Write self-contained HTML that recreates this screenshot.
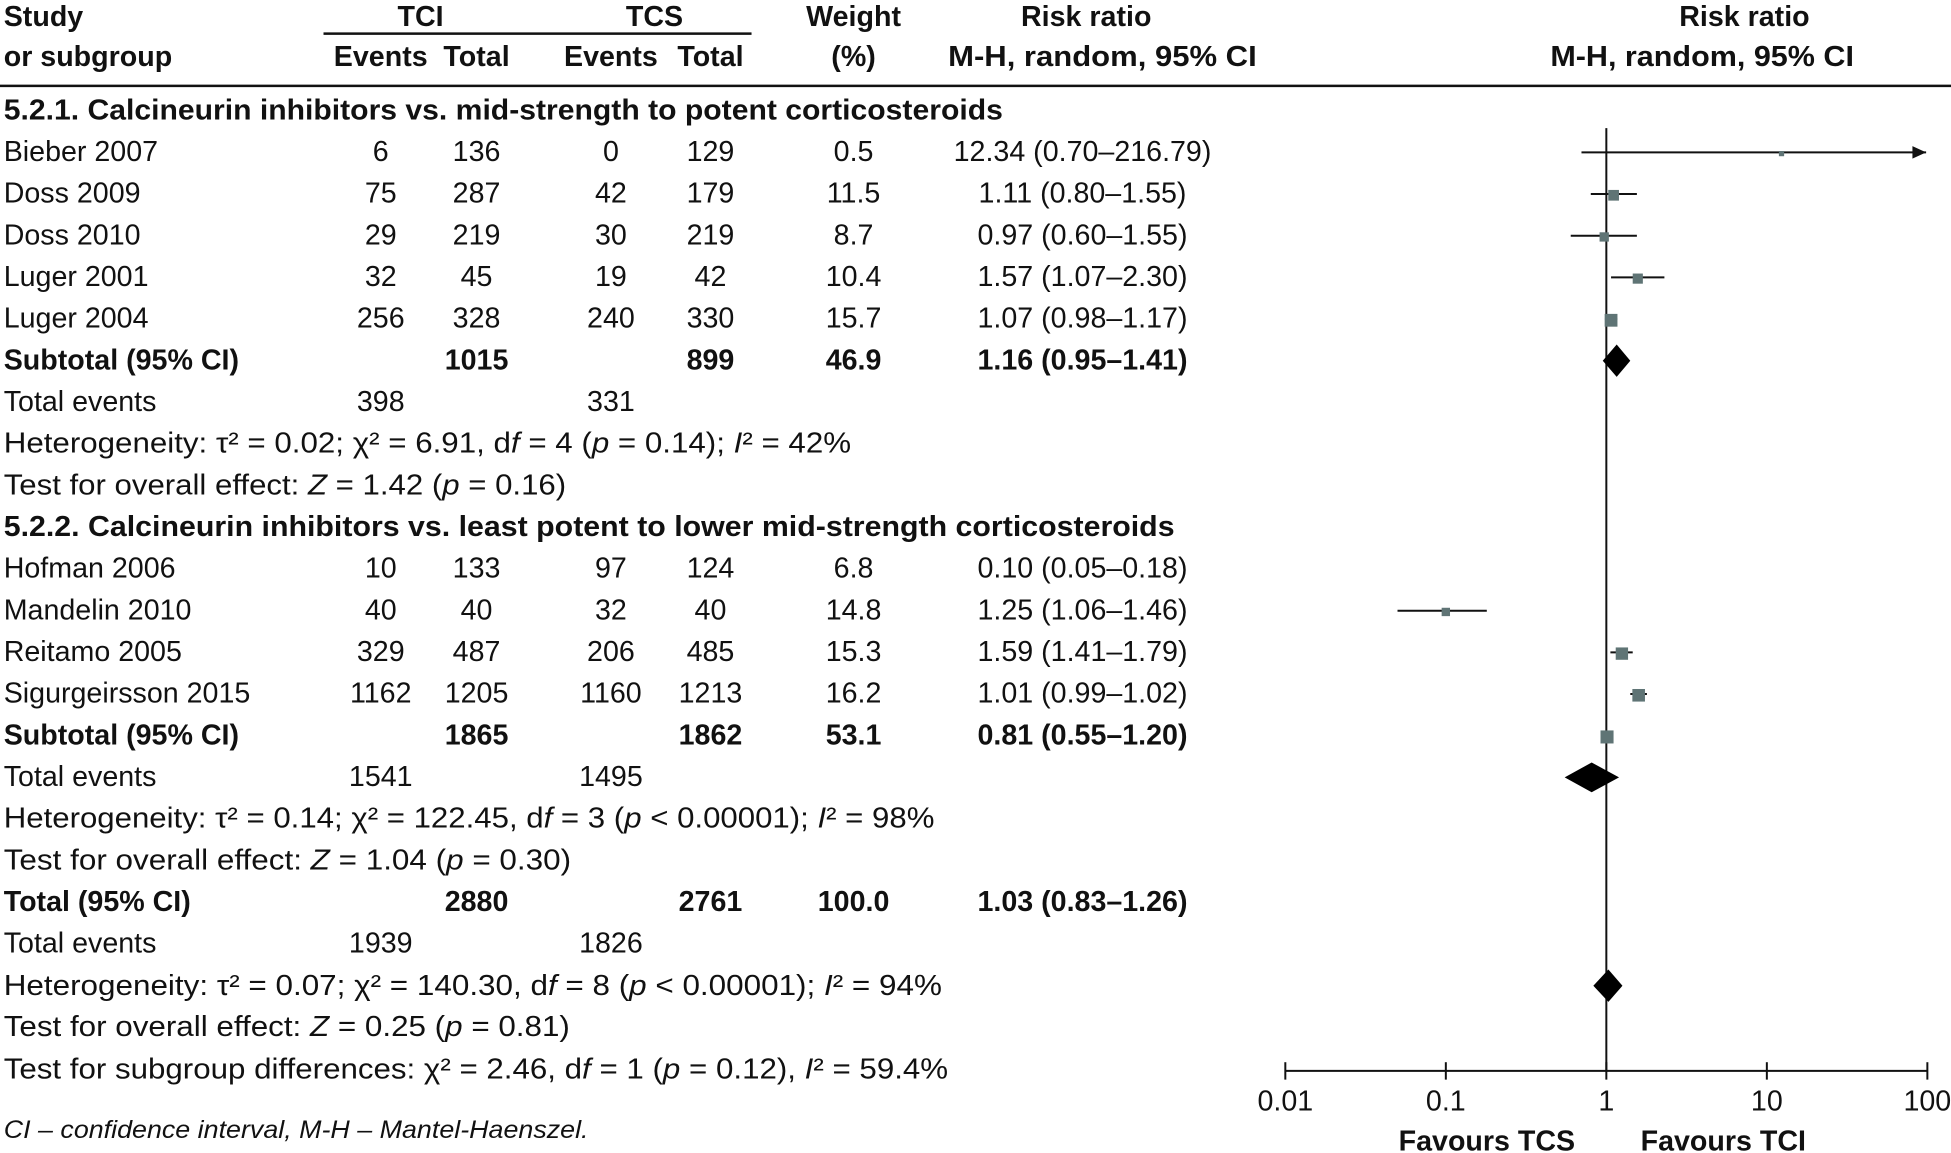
<!DOCTYPE html>
<html><head><meta charset="utf-8"><style>
html,body{margin:0;padding:0;background:#fff}
svg{display:block}
text{font-family:"Liberation Sans",sans-serif;font-size:23px;fill:#111}
.b{font-weight:bold}
</style></head><body>
<svg id="fp" width="1951" height="1153" viewBox="0 0 1568 927" preserveAspectRatio="none" xmlns="http://www.w3.org/2000/svg">
<g id="hdr">
<text x="3" y="21" class="b">Study</text>
<text x="3" y="53" class="b">or subgroup</text>
<text x="338" y="21" class="b" text-anchor="middle">TCI</text>
<text x="526" y="21" class="b" text-anchor="middle">TCS</text>
<line x1="260" y1="27" x2="604" y2="27" stroke="#111" stroke-width="2"/>
<text x="306" y="53" class="b" text-anchor="middle">Events</text>
<text x="383" y="53" class="b" text-anchor="middle">Total</text>
<text x="491" y="53" class="b" text-anchor="middle">Events</text>
<text x="571" y="53" class="b" text-anchor="middle">Total</text>
<text x="686" y="21" class="b" text-anchor="middle">Weight</text>
<text x="686" y="53" class="b" text-anchor="middle">(%)</text>
<text x="873" y="21" class="b" text-anchor="middle">Risk ratio</text>
<text x="886" y="53" class="b" text-anchor="middle" textLength="248" lengthAdjust="spacingAndGlyphs">M-H, random, 95% CI</text>
<text x="1402" y="21" class="b" text-anchor="middle">Risk ratio</text>
<text x="1368" y="53" class="b" text-anchor="middle" textLength="244" lengthAdjust="spacingAndGlyphs">M-H, random, 95% CI</text>
<line x1="0" y1="69" x2="1568" y2="69" stroke="#111" stroke-width="2"/>
</g>
<g id="rows"></g>
<g id="plot"></g>
<text x="3" y="915" font-style="italic" style="font-size:20px" textLength="470" lengthAdjust="spacingAndGlyphs">CI – confidence interval, M-H – Mantel-Haenszel.</text>
</svg>
<script>
// table content
const studies = ["Bieber 2007","Doss 2009","Doss 2010","Luger 2001","Luger 2004","Hofman 2006","Mandelin 2010","Reitamo 2005","Sigurgeirsson 2015"];
const studyRows = [1,2,3,4,5,11,12,13,14];
const tciEvents = [6,75,29,32,256,10,40,329,1162];
const tciTotal = [136,287,219,45,328,133,40,487,1205];
const tcsEvents = [0,42,30,19,240,97,32,206,1160];
const tcsTotal = [129,179,219,42,330,124,40,485,1213];
const weights = [0.5,11.5,8.7,10.4,15.7,6.8,14.8,15.3,16.2];
const rrText = ["12.34 (0.70–216.79)","1.11 (0.80–1.55)","0.97 (0.60–1.55)","1.57 (1.07–2.30)","1.07 (0.98–1.17)","0.10 (0.05–0.18)","1.25 (1.06–1.46)","1.59 (1.41–1.79)","1.01 (0.99–1.02)"];
// plotted square markers (as drawn in the figure)
const markRR = [12.34,1.11,0.97,1.57,1.07,0.10,1.25,1.59,1.01];
const markLo = [0.70,0.80,0.60,1.07,0.98,0.05,1.06,1.41,0.99];
const markHi = [216.79,1.55,1.55,2.30,1.17,0.18,1.46,1.79,1.02];
const markW = [0.5,11.5,8.7,10.4,15.7,6.8,14.8,15.3,16.2];
const markRow = [1,2,3,4,5,12,13,14,15];
// pooled diamonds
const diaRR = [1.16,0.81,1.03];
const diaLo = [0.95,0.55,0.83];
const diaHi = [1.41,1.20,1.26];
const diaRow = [6,16,21];
const ticks = [0.01,0.1,1,10,100];
const tickLabels = ["0.01","0.1","1","10","100"];

const NS="http://www.w3.org/2000/svg";
const rowY = r => 88 + r*33.5;
const xS = v => 1291 + Math.log10(v)*129;
function mk(tag, attrs, parent){const e=document.createElementNS(NS,tag);for(const k in attrs)e.setAttribute(k,attrs[k]);parent.appendChild(e);return e;}
const rows=document.getElementById('rows');
function txt(x,r,s,anchor,cls,name,len){
  const t=mk('text',{x:x,y:rowY(r)+8,'text-anchor':anchor||'start'},rows);
  if(cls)t.setAttribute('class',cls);
  if(len){t.setAttribute('textLength',len);t.setAttribute('lengthAdjust','spacingAndGlyphs');}
  t.innerHTML=s;
  
  
  return t;
}
txt(3,0,"5.2.1. Calcineurin inhibitors vs. mid-strength to potent corticosteroids","start","b","subgroup-1-heading",803);
studies.forEach((s,i)=>{
  const r=studyRows[i];
  txt(3,r,s,"start","","study-name");
  txt(306,r,tciEvents[i],"middle","","tci-events");
  txt(383,r,tciTotal[i],"middle","","tci-total");
  txt(491,r,tcsEvents[i],"middle","","tcs-events");
  txt(571,r,tcsTotal[i],"middle","","tcs-total");
  txt(686,r,weights[i],"middle","","weight");
  txt(870,r,rrText[i],"middle","","risk-ratio-ci");
});
const it = s=>`<tspan font-style="italic">${s}</tspan>`;
function sub(r,label,tot1,tot2,w,rr,ev1,ev2,het,hl,test,tl,name){
  txt(3,r,label,"start","b",name+"-label");
  txt(383,r,tot1,"middle","b",name+"-tci-total");
  txt(571,r,tot2,"middle","b",name+"-tcs-total");
  txt(686,r,w,"middle","b",name+"-weight");
  txt(870,r,rr,"middle","b",name+"-risk-ratio");
  txt(3,r+1,"Total events","start","",name+"-total-events-label");
  txt(306,r+1,ev1,"middle","",name+"-tci-events");
  txt(491,r+1,ev2,"middle","",name+"-tcs-events");
  txt(3,r+2,het,"start","",name+"-heterogeneity",hl);
  txt(3,r+3,test,"start","",name+"-overall-effect",tl);
}
sub(6,"Subtotal (95% CI)",1015,899,"46.9","1.16 (0.95–1.41)",398,331,
 `Heterogeneity: τ² = 0.02; χ² = 6.91, d${it('f')} = 4 (${it('p')} = 0.14); ${it('I')}² = 42%`,681,
 `Test for overall effect: ${it('Z')} = 1.42 (${it('p')} = 0.16)`,452,"subtotal-1");
txt(3,10,"5.2.2. Calcineurin inhibitors vs. least potent to lower mid-strength corticosteroids","start","b","subgroup-2-heading",941);
sub(15,"Subtotal (95% CI)",1865,1862,"53.1","0.81 (0.55–1.20)",1541,1495,
 `Heterogeneity: τ² = 0.14; χ² = 122.45, d${it('f')} = 3 (${it('p')} &lt; 0.00001); ${it('I')}² = 98%`,748,
 `Test for overall effect: ${it('Z')} = 1.04 (${it('p')} = 0.30)`,456,"subtotal-2");
txt(3,19,"Total (95% CI)","start","b","total-label");
txt(383,19,2880,"middle","b","total-tci-total");
txt(571,19,2761,"middle","b","total-tcs-total");
txt(686,19,"100.0","middle","b","total-weight");
txt(870,19,"1.03 (0.83–1.26)","middle","b","total-risk-ratio");
txt(3,20,"Total events","start","","total-events-label");
txt(306,20,1939,"middle","","total-tci-events");
txt(491,20,1826,"middle","","total-tcs-events");
const rr3=mk('text',{x:3,y:800},rows);
rr3.setAttribute('textLength','754');rr3.setAttribute('lengthAdjust','spacingAndGlyphs');
rr3.innerHTML=`Heterogeneity: τ² = 0.07; χ² = 140.30, d${it('f')} = 8 (${it('p')} &lt; 0.00001); ${it('I')}² = 94%`;


const t4=mk('text',{x:3,y:833},rows);
t4.setAttribute('textLength','455');t4.setAttribute('lengthAdjust','spacingAndGlyphs');
t4.innerHTML=`Test for overall effect: ${it('Z')} = 0.25 (${it('p')} = 0.81)`;


const t5=mk('text',{x:3,y:867},rows);
t5.setAttribute('textLength','759');t5.setAttribute('lengthAdjust','spacingAndGlyphs');
t5.innerHTML=`Test for subgroup differences: χ² = 2.46, d${it('f')} = 1 (${it('p')} = 0.12), ${it('I')}² = 59.4%`;



// plot
const plot=document.getElementById('plot');
const axisY=861;
const ref=mk('line',{x1:xS(1),y1:103,x2:xS(1),y2:axisY,stroke:'#111','stroke-width':1.6},plot);


const ax=mk('line',{x1:xS(ticks[0]),y1:axisY,x2:xS(ticks[ticks.length-1]),y2:axisY,stroke:'#111','stroke-width':1.6},plot);


ticks.forEach((t,i)=>{
  const tk=mk('line',{x1:xS(t),y1:axisY-7,x2:xS(t),y2:axisY+7,stroke:'#111','stroke-width':1.6},plot);
  
  
  const tl=mk('text',{x:xS(t),y:893,'text-anchor':'middle'},plot);
  tl.textContent=tickLabels[i];
  
  
});
const f1=mk('text',{x:1195,y:925,'text-anchor':'middle','class':'b'},plot);
f1.textContent="Favours TCS";


const f2=mk('text',{x:1385,y:925,'text-anchor':'middle','class':'b'},plot);
f2.textContent="Favours TCI";


const xMax=1548;
markRR.forEach((v,i)=>{
  const y=rowY(markRow[i])+1;
  const hiX=Math.min(xS(markHi[i]),xMax);
  const ci=mk('line',{x1:xS(markLo[i]),y1:y,x2:hiX,y2:y,stroke:'#111','stroke-width':1.6},plot);
  
  
  if(xS(markHi[i])>xMax){
    const ar=mk('polygon',{points:`${xMax},${y} ${xMax-11},${y-5} ${xMax-11},${y+5}`,fill:'#111'},plot);
    
    
  }
  const s=4+markW[i]*0.4;
  const sq=mk('rect',{x:xS(v)-s/2,y:y-s/2+1,width:s,height:s,fill:'#5f7475'},plot);
  
  
});
diaRR.forEach((v,i)=>{
  const y=rowY(diaRow[i])+1, h=i===1?12:13;
  const d=mk('polygon',{points:`${xS(diaLo[i])},${y} ${xS(v)},${y-h} ${xS(diaHi[i])},${y} ${xS(v)},${y+h}`,fill:'#000'},plot);
  
  
});
</script>
</body></html>
